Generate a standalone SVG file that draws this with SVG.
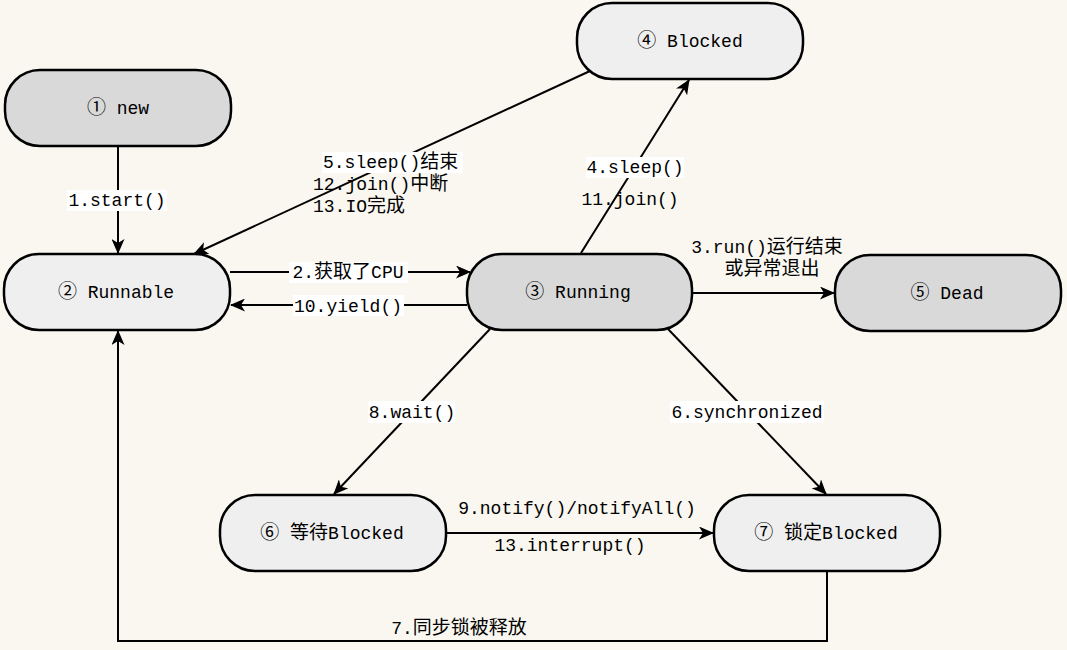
<svg xmlns="http://www.w3.org/2000/svg" width="1067" height="650" viewBox="0 0 1067 650">
<style>
text{font-family:"Liberation Mono","Noto Sans CJK SC",monospace;font-size:18px;fill:#000;text-anchor:middle}
.s{text-anchor:start}
.c{font-family:"Noto Sans CJK SC","Liberation Mono",sans-serif;font-size:19px}
.dark{fill:#d9d9d9;stroke:#000;stroke-width:2.5}
.light{fill:#efefef;stroke:#000;stroke-width:2.5}
.e{fill:none;stroke:#000;stroke-width:2}
.bg{fill:#fff;stroke:none}
</style>
<defs>
<marker id="ah" markerUnits="userSpaceOnUse" markerWidth="15" markerHeight="13" viewBox="0 0 15 13" refX="14" refY="6.5" orient="auto">
<path d="M0,0 L15,6.5 L0,13 L4,6.5 Z" fill="#000"/>
</marker>
</defs>
<rect width="1067" height="650" fill="#f9f7f0"/>
<g id="connectors">
<path class="e" d="M118,146 V253" marker-end="url(#ah)"/>
<path class="e" d="M590,71 L194,254" marker-end="url(#ah)"/>
<path class="e" d="M230,272 H470" marker-end="url(#ah)"/>
<path class="e" d="M467,305 H231" marker-end="url(#ah)"/>
<path class="e" d="M581,253 L689,80" marker-end="url(#ah)"/>
<path class="e" d="M692,293 H834" marker-end="url(#ah)"/>
<path class="e" d="M490,329 L334,494" marker-end="url(#ah)"/>
<path class="e" d="M668,329 L826,494" marker-end="url(#ah)"/>
<path class="e" d="M446,533 H713" marker-end="url(#ah)"/>
<path class="e" d="M827,571 V641 H118 V331" marker-end="url(#ah)"/>
<rect class="bg" x="67" y="190" width="100" height="21"/>
<text x="117" y="206">1.start()</text>
<rect class="bg" x="322" y="152" width="141" height="21"/>
<text class="s" x="323" y="168">5.sleep()<tspan class="c">结束</tspan></text>
<text class="s" x="313" y="190">12.join()<tspan class="c">中断</tspan></text>
<text class="s" x="313" y="212">13.IO<tspan class="c">完成</tspan></text>
<rect class="bg" x="289" y="262" width="119" height="21"/>
<text x="348" y="278">2.<tspan class="c">获取了</tspan>CPU</text>
<rect class="bg" x="293" y="295" width="111" height="21"/>
<text x="348" y="312">10.yield()</text>
<rect class="bg" x="586" y="157" width="98" height="21"/>
<text x="635" y="173">4.sleep()</text>
<text x="630" y="205">11.join()</text>
<text x="767" y="253">3.run()<tspan class="c">运行结束</tspan></text>
<text x="772" y="275" class="c">或异常退出</text>
<rect class="bg" x="368" y="401" width="87" height="22"/>
<text x="412" y="418">8.wait()</text>
<rect class="bg" x="670" y="401" width="154" height="22"/>
<text x="747" y="418">6.synchronized</text>
<text x="577" y="514">9.notify()/notifyAll()</text>
<text x="570" y="551">13.interrupt()</text>
<text x="459" y="634">7.<tspan class="c">同步锁被释放</tspan></text>
</g>
<g id="n1"><rect class="dark" x="5" y="70" width="226" height="76" rx="35"/><text x="118" y="114"><tspan class="c">①</tspan> new</text></g>
<g id="n2"><rect class="light" x="4" y="254" width="226" height="76" rx="35"/><text x="116" y="298"><tspan class="c">②</tspan> Runnable</text></g>
<g id="n3"><rect class="dark" x="467" y="254" width="225" height="76" rx="35"/><text x="578" y="298"><tspan class="c">③</tspan> Running</text></g>
<g id="n4"><rect class="light" x="577" y="3" width="226" height="76" rx="35"/><text x="690" y="47"><tspan class="c">④</tspan> Blocked</text></g>
<g id="n5"><rect class="dark" x="835" y="255" width="226" height="76" rx="35"/><text x="947" y="299"><tspan class="c">⑤</tspan> Dead</text></g>
<g id="n6"><rect class="light" x="220" y="495" width="226" height="76" rx="35"/><text x="332" y="539"><tspan class="c">⑥</tspan> <tspan class="c">等待</tspan>Blocked</text></g>
<g id="n7"><rect class="light" x="714" y="495" width="226" height="76" rx="35"/><text x="826" y="539"><tspan class="c">⑦</tspan> <tspan class="c">锁定</tspan>Blocked</text></g>
</svg>
